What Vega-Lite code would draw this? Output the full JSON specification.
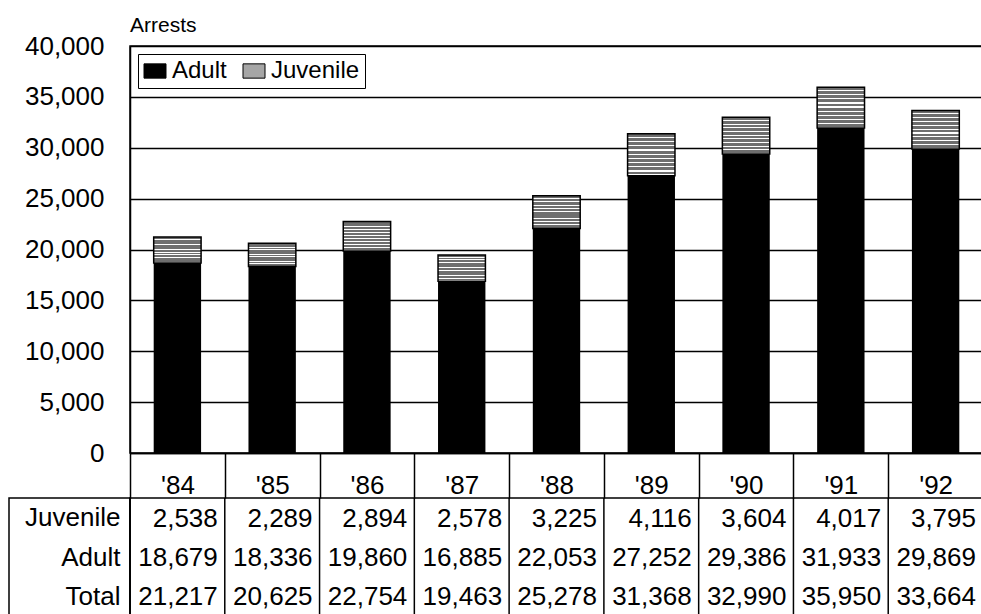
{
  "$schema": "https://vega.github.io/schema/vega-lite/v6.json",
  "autosize": {"type": "pad"},
  "padding": {"left": 8, "top": 14, "right": 0, "bottom": 0},
  "background": "white",
  "config": {
    "font": "Liberation Sans",
    "view": {"stroke": "black", "strokeWidth": 1.5},
    "axis": {"labelColor": "black", "labelFontSize": 26, "domainColor": "black", "tickColor": "black", "gridColor": "black", "titleColor": "black"}
  },
  "datasets": {
    "arrests": [
      {"year": "'84", "Juvenile": 2538, "Adult": 18679, "Total": 21217},
      {"year": "'85", "Juvenile": 2289, "Adult": 18336, "Total": 20625},
      {"year": "'86", "Juvenile": 2894, "Adult": 19860, "Total": 22754},
      {"year": "'87", "Juvenile": 2578, "Adult": 16885, "Total": 19463},
      {"year": "'88", "Juvenile": 3225, "Adult": 22053, "Total": 25278},
      {"year": "'89", "Juvenile": 4116, "Adult": 27252, "Total": 31368},
      {"year": "'90", "Juvenile": 3604, "Adult": 29386, "Total": 32990},
      {"year": "'91", "Juvenile": 4017, "Adult": 31933, "Total": 35950},
      {"year": "'92", "Juvenile": 3795, "Adult": 29869, "Total": 33664}
    ]
  },
  "columns": 2,
  "spacing": {"row": 45, "column": 0},
  "bounds": "flush",
  "resolve": {"scale": {"color": "independent"}, "legend": {"color": "independent"}},
  "concat": [
    {
      "width": 121, "height": 407,
      "data": {"values": []},
      "mark": "text",
      "encoding": {},
      "view": {"stroke": null}
    },
    {
      "width": 853, "height": 407,
      "data": {"name": "arrests"},
      "view": {"stroke": "black", "strokeWidth": 1.5},
      "title": {"text": "Arrests", "anchor": "start", "frame": "group", "fontSize": 21, "fontWeight": "normal", "color": "black", "offset": -3},
      "encoding": {
        "x": {
          "field": "year", "type": "nominal", "sort": null,
          "scale": {"paddingInner": 0, "paddingOuter": 0},
          "axis": {"title": null, "tickBand": "extent", "tickSize": 45, "tickWidth": 1.5, "labelPadding": -13, "labelBaseline": "middle", "labelAngle": 0, "domainWidth": 1.5}
        }
      },
      "layer": [
        {
          "mark": {"type": "bar", "width": {"band": 0.5}},
          "encoding": {
            "y": {
              "field": "Adult", "type": "quantitative",
              "scale": {"domain": [0, 40000]},
              "axis": {"title": null, "values": [0, 5000, 10000, 15000, 20000, 25000, 30000, 35000, 40000], "format": ",d", "grid": true, "gridWidth": 1.5, "ticks": false, "labelPadding": 26, "domainWidth": 1.5}
            },
            "color": {
              "datum": "Adult", "type": "nominal",
              "scale": {"domain": ["Adult", "Juvenile"], "range": ["#000000", "#a6a6a6"]},
              "legend": {"title": null, "orient": "top-left", "offset": 8, "direction": "horizontal", "labelFontSize": 24, "labelColor": "black", "symbolType": "M-1,-0.65H1V0.65H-1Z", "symbolSize": 484, "symbolStrokeColor": "black", "symbolStrokeWidth": 1, "symbolOpacity": 1, "strokeColor": "black", "fillColor": "white", "padding": 5, "labelOffset": 5, "columnPadding": 14}
            }
          }
        },
        {
          "mark": {"type": "bar", "width": {"band": 0.5}},
          "encoding": {
            "y": {"field": "Total", "type": "quantitative"},
            "y2": {"field": "Adult"},
            "color": {"datum": "Juvenile", "type": "nominal"}
          }
        },
        {
          "mark": {
            "type": "bar", "width": {"band": 0.5}, "stroke": "black", "strokeWidth": 1.5,
            "fill": {
              "gradient": "linear", "x1": 0, "y1": 0, "x2": 0, "y2": 1,
              "stops": [
                {"offset": 0, "color": "#6e6e6e"}, {"offset": 0.07, "color": "#6e6e6e"}, {"offset": 0.07, "color": "#ffffff"}, {"offset": 0.1, "color": "#ffffff"},
                {"offset": 0.1, "color": "#6e6e6e"}, {"offset": 0.17, "color": "#6e6e6e"}, {"offset": 0.17, "color": "#ffffff"}, {"offset": 0.2, "color": "#ffffff"},
                {"offset": 0.2, "color": "#6e6e6e"}, {"offset": 0.27, "color": "#6e6e6e"}, {"offset": 0.27, "color": "#ffffff"}, {"offset": 0.3, "color": "#ffffff"},
                {"offset": 0.3, "color": "#6e6e6e"}, {"offset": 0.37, "color": "#6e6e6e"}, {"offset": 0.37, "color": "#ffffff"}, {"offset": 0.4, "color": "#ffffff"},
                {"offset": 0.4, "color": "#6e6e6e"}, {"offset": 0.47, "color": "#6e6e6e"}, {"offset": 0.47, "color": "#ffffff"}, {"offset": 0.5, "color": "#ffffff"},
                {"offset": 0.5, "color": "#6e6e6e"}, {"offset": 0.57, "color": "#6e6e6e"}, {"offset": 0.57, "color": "#ffffff"}, {"offset": 0.6, "color": "#ffffff"},
                {"offset": 0.6, "color": "#6e6e6e"}, {"offset": 0.67, "color": "#6e6e6e"}, {"offset": 0.67, "color": "#ffffff"}, {"offset": 0.7, "color": "#ffffff"},
                {"offset": 0.7, "color": "#6e6e6e"}, {"offset": 0.77, "color": "#6e6e6e"}, {"offset": 0.77, "color": "#ffffff"}, {"offset": 0.8, "color": "#ffffff"},
                {"offset": 0.8, "color": "#6e6e6e"}, {"offset": 0.87, "color": "#6e6e6e"}, {"offset": 0.87, "color": "#ffffff"}, {"offset": 0.9, "color": "#ffffff"},
                {"offset": 0.9, "color": "#6e6e6e"}, {"offset": 0.97, "color": "#6e6e6e"}, {"offset": 0.97, "color": "#ffffff"}, {"offset": 1, "color": "#ffffff"}
              ]
            }
          },
          "encoding": {
            "y": {"field": "Total", "type": "quantitative"},
            "y2": {"field": "Adult"}
          }
        }
      ]
    },
    {
      "width": 121, "height": 118,
      "data": {"values": []},
      "mark": "text",
      "encoding": {},
      "view": {"stroke": "black", "strokeWidth": 1.5}
    },
    {
      "width": 853, "height": 118,
      "data": {"name": "arrests"},
      "view": {"stroke": "black", "strokeWidth": 1.5},
      "layer": [
        {
          "mark": {"type": "rule", "color": "black", "strokeWidth": 1.5},
          "encoding": {
            "x": {"field": "year", "type": "nominal", "sort": null, "bandPosition": 0, "scale": {"type": "band", "paddingInner": 0, "paddingOuter": 0}, "axis": null}
          }
        },
        {
          "transform": [{"fold": ["Juvenile", "Adult", "Total"], "as": ["row", "value"]}],
          "mark": {"type": "text", "fontSize": 26, "align": "right", "baseline": "middle", "dx": -7, "dy": 1, "color": "black"},
          "encoding": {
            "x": {"field": "year", "type": "nominal", "sort": null, "bandPosition": 1},
            "y": {"field": "row", "type": "nominal", "sort": ["Juvenile", "Adult", "Total"], "axis": {"title": null, "domain": false, "ticks": false, "labelPadding": 10, "labelFontSize": 26}},
            "text": {"field": "value", "type": "quantitative", "format": ",d"}
          }
        }
      ]
    }
  ]
}
